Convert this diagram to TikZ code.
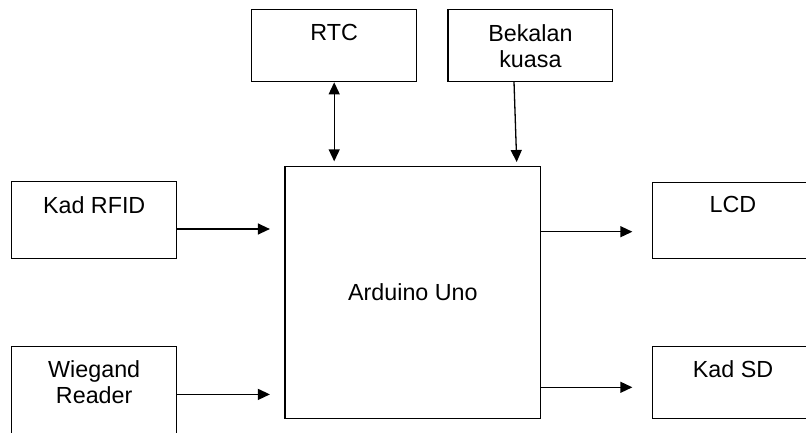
\documentclass[tikz,border=0pt]{standalone}
\usepackage{fontspec}
\setmainfont{Liberation Sans}
\usetikzlibrary{arrows.meta,positioning}
\tikzset{
  block/.style={draw, line width=1.3pt, inner sep=0pt},
  txt/.style={inner sep=0pt, align=center, font=\fontsize{23.3}{26}\selectfont},
  lbl/.style={txt, anchor=north},
  arr/.style={line width=1.3pt, ->},
}
\begin{document}
\begin{tikzpicture}[x=1pt,y=-1pt,>={Triangle[length=12pt,width=11pt]}]
  \clip (0,0) rectangle (806,432);
  % blocks
  \node[block, minimum width=165pt, minimum height=72.4pt] (rtc) at (334.2,45.5) {};
  \node[block, minimum width=164.7pt, minimum height=72.4pt] (kuasa) at (530.4,45.5) {};
  \node[block, txt, minimum width=255.7pt, minimum height=251.8pt] (uno) at (412.9,292.4) {Arduino Uno};
  \node[block, minimum width=165pt, minimum height=76.6pt] (rfid) at (94.2,220) {};
  \node[block, minimum width=165pt, minimum height=90pt] (wiegand) at (94.2,391.7) {};
  \node[block, minimum width=160.6pt, minimum height=75.6pt] (lcd) at (733,220.5) {};
  \node[block, minimum width=160.6pt, minimum height=71.6pt] (sd) at (733,382.5) {};
  % labels
  \node[lbl, below=15.5pt of rtc.north] (rtc txt) {RTC};
  \node[lbl, below=15.5pt of kuasa.north] (kuasa txt) {Bekalan\\kuasa};
  \node[lbl, below=15.5pt of rfid.north] (rfid txt) {Kad RFID};
  \node[lbl, below=14.5pt of wiegand.north] (wiegand txt) {Wiegand\\Reader};
  \node[lbl, below=14pt of lcd.north] (lcd txt) {LCD};
  \node[lbl, below=14.5pt of sd.north] (sd txt) {Kad SD};
  % connections
  \coordinate (kuasa out) at (514,81.7);
  \coordinate (kuasa in) at (516.7,162);
  \coordinate (rfid out) at ([yshift=-9pt]rfid.east);
  \coordinate (wiegand out) at ([yshift=-2.7pt]wiegand.east);
  \coordinate (lcd in) at ([yshift=-11.2pt]lcd.west);
  \coordinate (sd in) at ([yshift=-4.8pt]sd.west);
  \draw[arr, <->, shorten >=4.5pt] (rtc.south) -- (rtc.south |- uno.north);
  \draw[arr] (kuasa out) -- (kuasa in);
  \draw[arr, shorten >=14.5pt] (rfid out) -- (rfid out -| uno.west);
  \draw[arr, shorten >=14.5pt] (wiegand out) -- (wiegand out -| uno.west);
  \draw[arr, shorten >=19.7pt] (lcd in -| uno.east) -- (lcd in);
  \draw[arr, shorten >=19.7pt] (sd in -| uno.east) -- (sd in);
\end{tikzpicture}
\end{document}
